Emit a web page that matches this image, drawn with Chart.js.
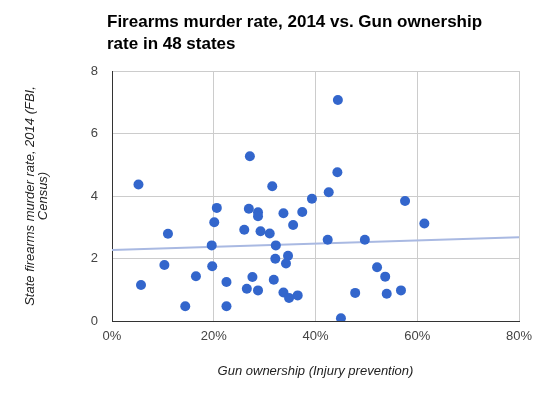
<!DOCTYPE html>
<html>
<head>
<meta charset="utf-8">
<script src="https://cdn.jsdelivr.net/npm/chart.js@4"></script>
<style>
  html, body { margin: 0; padding: 0; background: #fff; }
  canvas { display: block; }
</style>
</head>
<body>
<canvas id="chart" width="545" height="393"></canvas>
<script>
// gun ownership rate (%) per state
const ownership = [5.2, 27.1, 31.5, 44.4, 44.3, 42.6, 39.3, 37.4, 57.6, 61.4,
  42.4, 49.7, 52.1, 53.7, 47.8, 54.0, 56.8, 45.0, 11.0, 20.6,
  20.1, 19.6, 10.3, 19.7, 5.7, 16.5, 14.4, 22.5, 22.5, 26.0,
  26.9, 28.7, 28.7, 29.2, 31.0, 32.2, 32.1, 34.6, 34.2, 33.7,
  35.6, 27.6, 26.5, 28.7, 31.8, 33.7, 34.8, 36.5];
// firearms murder rate 2014
const murderRate = [4.37, 5.27, 4.31, 7.07, 4.76, 4.12, 3.91, 3.49, 3.84, 3.12,
  2.60, 2.60, 1.72, 1.42, 0.90, 0.87, 0.98, 0.09, 2.79, 3.62,
  3.16, 2.42, 1.79, 1.75, 1.15, 1.43, 0.47, 1.25, 0.47, 2.92,
  3.59, 3.48, 3.35, 2.87, 2.80, 2.42, 1.99, 2.09, 1.84, 3.45,
  3.07, 1.41, 1.03, 0.98, 1.32, 0.91, 0.74, 0.82];
// linear trendline end points
const trendX = [0, 80];
const trendY = [2.27, 2.68];

const xTicks = [0, 20, 40, 60, 80];
const yTicks = [0, 2, 4, 6, 8];

const titleLines = ["Firearms murder rate, 2014 vs. Gun ownership", "rate in 48 states"];

const FONT = '"Liberation Sans", Arial, sans-serif';

const titlePlugin = {
  id: "titleText",
  afterDraw(chart) {
    const ctx = chart.ctx;
    ctx.save();
    ctx.fillStyle = "#000";
    ctx.font = "bold 17px " + FONT;
    ctx.textBaseline = "alphabetic";
    ctx.fillText(titleLines[0], 107, 27);
    ctx.fillText(titleLines[1], 107, 49);
    ctx.restore();
  }
};

new Chart(document.getElementById("chart"), {
  type: "scatter",
  data: {
    datasets: [
      {
        label: "Trend",
        type: "line",
        data: trendX.map((x, i) => ({ x: x, y: trendY[i] })),
        borderColor: "#a9b9e2",
        borderWidth: 2,
        pointRadius: 0,
        fill: false,
        order: 2
      },
      {
        label: "States",
        data: ownership.map((x, i) => ({ x: x, y: murderRate[i] })),
        backgroundColor: "#3366cc",
        borderWidth: 0,
        pointRadius: 5,
        pointHoverRadius: 5,
        order: 1
      }
    ]
  },
  options: {
    responsive: false,
    animation: false,
    layout: { padding: { top: 71, right: 26, left: 0, bottom: 0 } },
    plugins: {
      legend: { display: false },
      tooltip: { enabled: false }
    },
    scales: {
      x: {
        type: "linear",
        min: 0,
        max: 80,
        afterBuildTicks: s => { s.ticks = xTicks.map(v => ({ value: v })); },
        afterFit: s => { s.height = 72; },
        ticks: {
          callback: v => v + "%",
          color: "#444",
          font: { family: FONT, size: 13 },
          padding: 8,
          maxRotation: 0
        },
        grid: { color: "#cccccc", drawTicks: false },
        border: { color: "#333333", width: 1 },
        title: {
          display: true,
          text: "Gun ownership (Injury prevention)",
          color: "#222",
          font: { family: FONT, size: 13, style: "italic", lineHeight: 1.15 },
          padding: { top: 0, bottom: 14 }
        }
      },
      y: {
        min: 0,
        max: 8,
        afterBuildTicks: s => { s.ticks = yTicks.map(v => ({ value: v })); },
        afterFit: s => { s.width = 112; },
        ticks: {
          color: "#444",
          font: { family: FONT, size: 13 },
          padding: 14
        },
        grid: { color: "#cccccc", drawTicks: false },
        border: { color: "#333333", width: 1 },
        title: {
          display: true,
          text: ["State firearms murder rate, 2014 (FBI,", "Census)"],
          color: "#222",
          font: { family: FONT, size: 13, style: "italic", lineHeight: 1.0 },
          padding: { top: 24, bottom: 0 }
        }
      }
    }
  },
  plugins: [titlePlugin]
});
</script>
</body>
</html>
